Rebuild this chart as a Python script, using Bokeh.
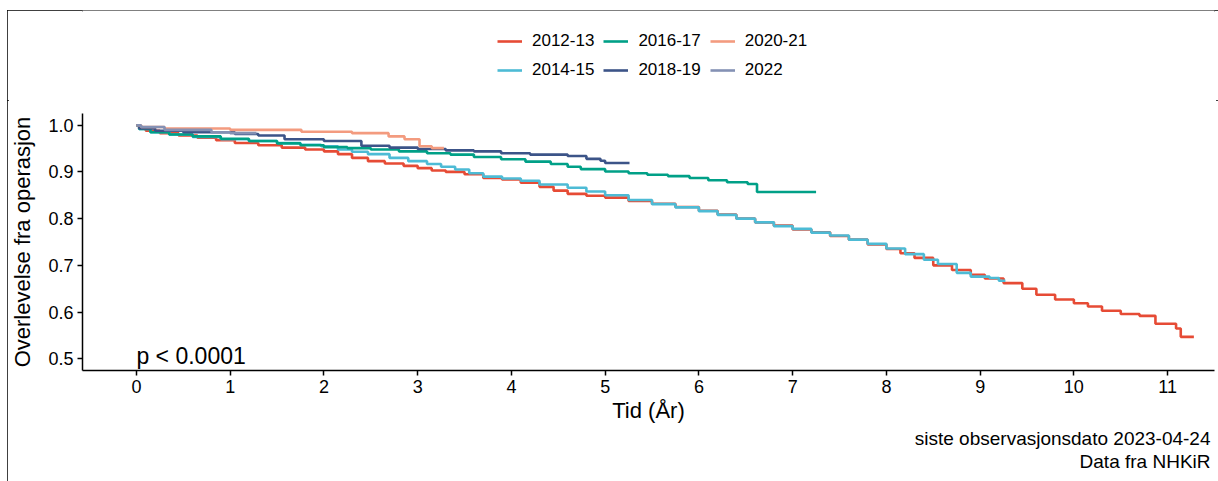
from bokeh.plotting import figure
from bokeh.layouts import column
from bokeh.models import (Legend, LegendItem, Label, Title, Range1d,
                          FixedTicker, NumeralTickFormatter)
from bokeh.embed import file_html
from bokeh.resources import INLINE

groups = ["2012-13", "2014-15", "2016-17", "2018-19", "2020-21", "2022"]
colors = ["#E64B35", "#4DBBD5", "#00A087", "#3C5488", "#F39B7F", "#8491B4"]

t_2012 = [0.00, 0.03, 0.10, 0.25, 0.45, 0.65, 0.85, 1.05, 1.30, 1.55, 1.80, 2.00,
          2.15, 2.30, 2.47, 2.65, 2.85, 3.00, 3.15, 3.30, 3.50, 3.70, 3.90, 4.10,
          4.30, 4.45, 4.60, 4.80, 5.00, 5.25, 5.50, 5.75, 6.00, 6.20, 6.40, 6.60,
          6.80, 7.00, 7.20, 7.40, 7.60, 7.80, 8.00, 8.15, 8.30, 8.50, 8.70, 8.90,
          9.05, 9.25, 9.45, 9.60, 9.80, 10.00, 10.15, 10.30, 10.50, 10.70, 10.87,
          11.09, 11.14, 11.28]
s_2012 = [1.000, 0.993, 0.988, 0.983, 0.978, 0.973, 0.968, 0.962, 0.957, 0.952, 0.948, 0.944,
          0.938, 0.930, 0.923, 0.918, 0.913, 0.908, 0.903, 0.900, 0.895, 0.887, 0.884, 0.877,
          0.868, 0.860, 0.853, 0.849, 0.845, 0.838, 0.832, 0.825, 0.817, 0.809, 0.800, 0.792,
          0.785, 0.777, 0.771, 0.763, 0.755, 0.745, 0.735, 0.726, 0.716, 0.700, 0.690, 0.680,
          0.672, 0.662, 0.650, 0.637, 0.627, 0.619, 0.612, 0.603, 0.596, 0.592, 0.575,
          0.565, 0.547, 0.547]

t_2014 = [0.00, 0.03, 0.15, 0.35, 0.60, 0.90, 1.20, 1.50, 1.75, 1.97, 2.15, 2.30,
          2.47, 2.70, 2.90, 3.10, 3.25, 3.40, 3.55, 3.70, 3.90, 4.10, 4.30, 4.60,
          4.80, 5.00, 5.25, 5.50, 5.75, 6.00, 6.20, 6.40, 6.60, 6.80, 7.00, 7.20,
          7.40, 7.60, 7.80, 8.00, 8.20, 8.40, 8.55, 8.75, 8.90, 9.10, 9.20, 9.27]
s_2014 = [1.000, 0.992, 0.985, 0.980, 0.975, 0.970, 0.966, 0.962, 0.958, 0.955, 0.948, 0.943,
          0.938, 0.930, 0.923, 0.917, 0.911, 0.905, 0.897, 0.890, 0.886, 0.881, 0.873, 0.866,
          0.858, 0.850, 0.840, 0.831, 0.824, 0.816, 0.808, 0.800, 0.792, 0.784, 0.778, 0.770,
          0.764, 0.755, 0.746, 0.736, 0.724, 0.712, 0.703, 0.684, 0.676, 0.673, 0.667, 0.667]

t_2016 = [0.00, 0.03, 0.15, 0.35, 0.60, 0.90, 1.20, 1.50, 1.75, 2.00, 2.25, 2.50,
          2.80, 3.10, 3.35, 3.60, 3.89, 4.15, 4.42, 4.60, 4.74, 5.00, 5.25, 5.45,
          5.67, 5.90, 6.10, 6.30, 6.52, 6.62, 7.25]
s_2016 = [1.000, 0.992, 0.985, 0.980, 0.976, 0.971, 0.966, 0.961, 0.957, 0.953, 0.951, 0.948,
          0.944, 0.940, 0.937, 0.932, 0.927, 0.922, 0.917, 0.911, 0.906, 0.901, 0.897, 0.894,
          0.891, 0.887, 0.882, 0.878, 0.874, 0.857, 0.857]

t_2018 = [0.00, 0.03, 0.20, 0.50, 1.05, 1.30, 1.58, 2.00, 2.40, 2.70, 3.00, 3.30,
          3.60, 3.89, 4.20, 4.60, 4.80, 4.95, 5.00, 5.26]
s_2018 = [1.000, 0.993, 0.988, 0.985, 0.981, 0.978, 0.970, 0.966, 0.956, 0.952, 0.949, 0.946,
          0.944, 0.940, 0.937, 0.934, 0.928, 0.924, 0.919, 0.919]

t_2020 = [0.00, 0.05, 0.30, 1.00, 1.76, 2.30, 2.69, 2.86, 3.02, 3.15, 3.28]
s_2020 = [1.000, 0.996, 0.993, 0.990, 0.986, 0.983, 0.976, 0.970, 0.955, 0.951, 0.951]

t_2022 = [0.00, 0.05, 0.30, 0.80, 1.00, 1.28]
s_2022 = [1.000, 0.996, 0.990, 0.985, 0.983, 0.983]

times = [t_2012, t_2014, t_2016, t_2018, t_2020, t_2022]
survs = [s_2012, s_2014, s_2016, s_2018, s_2020, s_2022]

x_ticks = list(range(12))
y_ticks = [0.5, 0.6, 0.7, 0.8, 0.9, 1.0]

FONT = "Liberation Sans"
LW = 2.6
W = 1211

# ---- legend strip (top); its curves lie outside its view, only the key shows ----
leg = figure(width=W, height=90, output_backend="svg", toolbar_location=None,
             x_range=Range1d(-0.575, 11.5), y_range=Range1d(10, 11),
             x_axis_type=None, y_axis_type=None,
             min_border_left=73, min_border_right=4, min_border_top=0,
             min_border_bottom=0)
leg.outline_line_color = None
leg.xgrid.visible = False
leg.ygrid.visible = False
leg.background_fill_color = "white"
leg.border_fill_color = "white"
leg_renderers = [leg.step(t, s, mode="after", line_color=c, line_width=LW)
                 for t, s, c in zip(times, survs, colors)]
items = [LegendItem(label=g, renderers=[r]) for g, r in zip(groups, leg_renderers)]
legend = Legend(items=items, orientation="vertical", nrows=2,
                location=(415, 20), margin=0, padding=0, spacing=9,
                glyph_width=25, glyph_height=20, label_height=20,
                label_standoff=10, label_text_font=FONT,
                label_text_font_size="17px", label_text_color="black",
                border_line_color=None, background_fill_alpha=0)
leg.add_layout(legend, "center")

# ---- main plot ----
p = figure(width=W, height=381, output_backend="svg", toolbar_location=None,
           x_range=Range1d(-0.575, 11.5), y_range=Range1d(0.475, 1.025),
           min_border_left=73, min_border_right=4, min_border_top=13,
           min_border_bottom=111)
p.outline_line_color = None
p.xgrid.visible = False
p.ygrid.visible = False
p.background_fill_color = "white"
p.border_fill_color = "white"

for t, s, c in zip(times, survs, colors):
    p.step(t, s, mode="after", line_color=c, line_width=LW)

for ax in (p.xaxis[0], p.yaxis[0]):
    ax.axis_line_color = "black"
    ax.axis_line_width = 1.5
    ax.major_tick_line_color = "black"
    ax.major_tick_line_width = 1.5
    ax.major_tick_out = 5
    ax.major_tick_in = 0
    ax.minor_tick_line_color = None
    ax.major_label_text_font = FONT
    ax.major_label_text_font_size = "18px"
    ax.major_label_text_color = "black"
    ax.axis_label_text_font = FONT
    ax.axis_label_text_font_size = "22px"
    ax.axis_label_text_font_style = "normal"
    ax.axis_label_text_color = "black"

p.xaxis.ticker = FixedTicker(ticks=x_ticks)
p.yaxis.ticker = FixedTicker(ticks=y_ticks)
p.yaxis.formatter = NumeralTickFormatter(format="0.0")
p.xaxis.axis_label = "Tid (År)"
p.yaxis.axis_label = "Overlevelse fra operasjon"
p.xaxis.major_label_standoff = 4
p.yaxis.major_label_standoff = 4
p.xaxis.axis_label_standoff = 2
p.yaxis.axis_label_standoff = 10

p.add_layout(Label(x=0, y=0.505, text="p < 0.0001", text_font=FONT,
                   text_font_size="23px", text_baseline="middle",
                   text_align="left", text_color="black"))

p.add_layout(Title(text="siste observasjonsdato 2023-04-24", align="right",
                   text_font=FONT, text_font_size="19px", standoff=0, offset=4,
                   text_font_style="normal", text_color="black"), "below")
p.add_layout(Title(text="Data fra NHKiR", align="right", standoff=0, offset=4,
                   text_font=FONT, text_font_size="19px",
                   text_font_style="normal", text_color="black"), "below")

layout = column(leg, p, spacing=0,
                styles={"outline": "2px solid black", "outline-offset": "-2px",
                        "margin-left": "7px", "margin-top": "10px"})

open("out.html", "w").write(file_html(layout, INLINE))
